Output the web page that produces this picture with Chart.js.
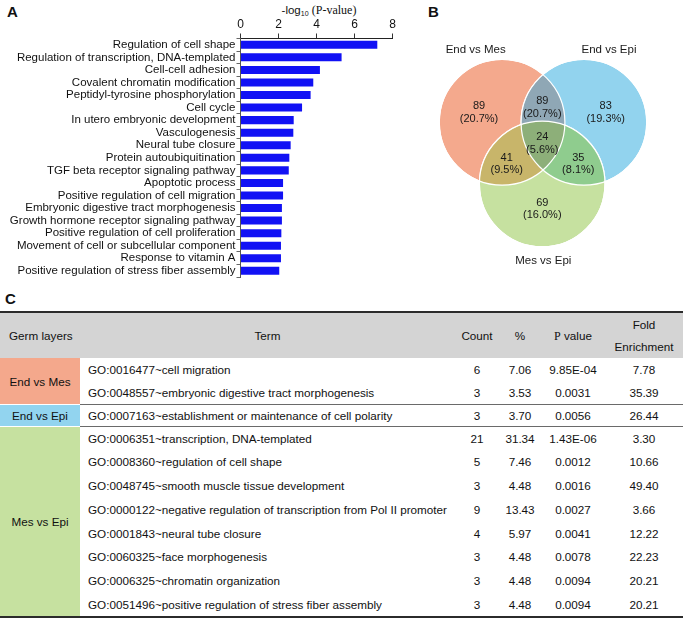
<!DOCTYPE html>
<html>
<head>
<meta charset="utf-8">
<script src="https://cdn.jsdelivr.net/npm/chart.js@4.4.1/dist/chart.umd.min.js"></script>
<style>
  body{margin:0;width:683px;height:624px;position:relative;overflow:hidden;background:#fff;
       font-family:"Liberation Sans",Arial,sans-serif;color:#111}
  .panel{position:absolute;font-weight:bold;font-size:15px;line-height:15px}
  #barChart{position:absolute;left:0;top:0}
  #vennChart{position:absolute;left:420px;top:0}
  #xtitle{position:absolute;left:219px;width:200px;top:3px;text-align:center;font-size:11.5px;line-height:14px}
  #xtitle sub{font-size:7px;vertical-align:-2px}
  .serif{font-family:"Liberation Serif","Times New Roman",serif;font-size:12px}
  #goTable{position:absolute;left:0;top:311px;width:683px;border-collapse:separate;border-spacing:0;
           table-layout:fixed;font-size:11.7px;border-top:2px solid #2b2b2b;border-bottom:2px solid #2b2b2b}
  #goTable td,#goTable th{padding:0;white-space:nowrap;font-weight:normal;text-align:center}
  #goTable th{background:#d4d4d4;height:45px;line-height:22px}
  #goTable td.term{text-align:left;padding-left:8px}
  #goTable tr.first td{border-top:1px solid #6a6a6a}
  #goTable tr.first td.germ{border-top:1px solid #fff}
</style>
</head>
<body>

<div class="panel" style="left:7px;top:4px">A</div>
<div id="xtitle">-log<sub>10</sub> <span class="serif">(P-value)</span></div>
<canvas id="barChart" width="420" height="285"></canvas>

<div class="panel" style="left:428px;top:4px">B</div>
<canvas id="vennChart" width="263" height="285"></canvas>

<div class="panel" style="left:5px;top:291px">C</div>
<table id="goTable"></table>

<script>
// ---- panel A: GO terms and -log10(P) ----
var terms = [
  'Regulation of cell shape',
  'Regulation of transcription, DNA-templated',
  'Cell-cell adhesion',
  'Covalent chromatin modification',
  'Peptidyl-tyrosine phosphorylation',
  'Cell cycle',
  'In utero embryonic development',
  'Vasculogenesis',
  'Neural tube closure',
  'Protein autoubiquitination',
  'TGF beta receptor signaling pathway',
  'Apoptotic process',
  'Positive regulation of cell migration',
  'Embryonic digestive tract morphogenesis',
  'Growth hormone receptor signaling pathway',
  'Positive regulation of cell proliferation',
  'Movement of cell or subcellular component',
  'Response to vitamin A',
  'Positive regulation of stress fiber assembly'
];
var negLogP = [7.2, 5.32, 4.18, 3.83, 3.69, 3.24, 2.80, 2.78, 2.64, 2.57, 2.54,
               2.24, 2.24, 2.18, 2.18, 2.15, 2.13, 2.13, 2.04];
var xTicks = [0, 2, 4, 6, 8];

// ---- panel B: venn sets and region counts ----
var vennSets = ['End vs Mes', 'End vs Epi', 'Mes vs Epi'];
// regions: Mes only, Epi only, MesEpi only, EndMes&EndEpi, EndMes&MesEpi, EndEpi&MesEpi, all three
var regionCounts = [89, 83, 69, 89, 41, 35, 24];

// ---- panel C: enrichment table ----
var germLayers = ['End vs Mes', 'End vs Epi', 'Mes vs Epi'];
var germRows = [2, 1, 8];
var goTerms = [
  'GO:0016477~cell migration',
  'GO:0048557~embryonic digestive tract morphogenesis',
  'GO:0007163~establishment or maintenance of cell polarity',
  'GO:0006351~transcription, DNA-templated',
  'GO:0008360~regulation of cell shape',
  'GO:0048745~smooth muscle tissue development',
  'GO:0000122~negative regulation of transcription from Pol II promoter',
  'GO:0001843~neural tube closure',
  'GO:0060325~face morphogenesis',
  'GO:0006325~chromatin organization',
  'GO:0051496~positive regulation of stress fiber assembly'
];
var counts = [6, 3, 3, 21, 5, 3, 9, 4, 3, 3, 3];
var percents = ['7.06', '3.53', '3.70', '31.34', '7.46', '4.48', '13.43', '5.97', '4.48', '4.48', '4.48'];
var pValues = ['9.85E-04', '0.0031', '0.0056', '1.43E-06', '0.0012', '0.0016', '0.0027', '0.0041', '0.0078', '0.0094', '0.0094'];
var foldEnrichment = ['7.78', '35.39', '26.44', '3.30', '10.66', '49.40', '3.66', '12.22', '22.23', '20.21', '20.21'];

var FONT = '"Liberation Sans", Arial, sans-serif';

// bar chart
new Chart(document.getElementById('barChart'), {
  type: 'bar',
  data: {
    labels: terms,
    datasets: [{
      data: negLogP,
      backgroundColor: '#1111f4',
      barPercentage: 0.64,
      categoryPercentage: 1
    }]
  },
  options: {
    indexAxis: 'y',
    responsive: false,
    animation: false,
    layout: { padding: { left: 0, right: 27.5, top: 0, bottom: 6 } },
    plugins: { legend: { display: false }, tooltip: { enabled: false } },
    scales: {
      x: {
        position: 'top',
        min: 0, max: 8,
        afterBuildTicks: function(s){ s.ticks = xTicks.map(function(v){ return {value: v}; }); },
        afterFit: function(s){ s.height = 38.5; },
        ticks: { color: '#111', font: { family: FONT, size: 12 }, padding: 1.5, maxRotation: 0 },
        grid: { drawOnChartArea: false, drawTicks: true, tickLength: 5, color: '#333' },
        border: { display: true, color: '#222', width: 1 }
      },
      y: {
        afterFit: function(s){ s.width = 240.5; },
        ticks: { color: '#111', font: { family: FONT, size: 11.5 }, padding: 1, autoSkip: false },
        grid: { drawOnChartArea: false, drawTicks: true, tickLength: 4, color: '#666' },
        border: { display: true, color: '#555', width: 1 }
      }
    }
  }
});

// venn diagram as a bubble chart (data units == canvas px)
var vennLayout = {
  centers: [{x: 82.1, y: 122.3}, {x: 163.9, y: 122.3}, {x: 122.2, y: 183.9}],
  radius: 62.8,
  fills: ['#f4a98d', '#92d3ee', '#c6e1a0'],
  pairFills: { '0-1': '#8fa7b5', '0-2': '#c8b56a', '1-2': '#8fcc8e' },
  tripleFill: '#8daf79',
  setLabelPos: [{x: 55.7, y: 50}, {x: 189, y: 50}, {x: 123.3, y: 260.7}],
  regionPos: [{x: 59, y: 106}, {x: 185.7, y: 106}, {x: 122.3, y: 202.5},
              {x: 122.3, y: 101}, {x: 86.7, y: 157.5}, {x: 158.3, y: 157.5}, {x: 122.3, y: 137}]
};
var total = regionCounts.reduce(function(a, b){ return a + b; }, 0);

var vennPlugin = {
  id: 'vennOverlay',
  afterDatasetsDraw: function(chart) {
    var c = chart.ctx, sx = chart.scales.x, sy = chart.scales.y;
    var els = chart.getDatasetMeta(0).data;
    function circ(i){ c.beginPath(); c.arc(els[i].x, els[i].y, els[i].options.radius, 0, Math.PI * 2); }
    [[0, 1], [0, 2], [1, 2]].forEach(function(p){
      c.save(); circ(p[0]); c.clip(); circ(p[1]);
      c.fillStyle = vennLayout.pairFills[p[0] + '-' + p[1]]; c.fill(); c.restore();
    });
    c.save(); circ(0); c.clip(); circ(1); c.clip(); circ(2);
    c.fillStyle = vennLayout.tripleFill; c.fill(); c.restore();
    c.save(); c.strokeStyle = '#fff'; c.lineWidth = 1.2;
    for (var i = 0; i < 3; i++){ circ(i); c.stroke(); }
    c.restore();

    c.save();
    c.textAlign = 'center'; c.textBaseline = 'middle'; c.fillStyle = '#1a1a1a';
    c.font = '11.5px ' + FONT;
    vennSets.forEach(function(name, i){
      var p = vennLayout.setLabelPos[i];
      c.fillText(name, sx.getPixelForValue(p.x), sy.getPixelForValue(p.y));
    });
    c.font = '11px ' + FONT;
    regionCounts.forEach(function(n, i){
      var p = vennLayout.regionPos[i];
      var px = sx.getPixelForValue(p.x), py = sy.getPixelForValue(p.y);
      c.fillText(String(n), px, py);
      c.fillText('(' + (n / total * 100).toFixed(1) + '%)', px, py + 12.5);
    });
    c.restore();
  }
};

new Chart(document.getElementById('vennChart'), {
  type: 'bubble',
  data: {
    datasets: [{
      data: vennLayout.centers.map(function(p){ return {x: p.x, y: p.y, r: vennLayout.radius}; }),
      backgroundColor: vennLayout.fills,
      borderColor: '#fff',
      borderWidth: 1.2,
      clip: false
    }]
  },
  options: {
    responsive: false,
    animation: false,
    layout: { padding: 0, autoPadding: false },
    plugins: { legend: { display: false }, tooltip: { enabled: false } },
    scales: {
      x: { display: false, min: 0, max: 263 },
      y: { display: false, min: 0, max: 285, reverse: true }
    }
  },
  plugins: [vennPlugin]
});

// table
var colWidths = [80, 375, 44, 42, 64, 78];
var germColors = ['#f4a88c', '#92d4ef', '#c6e1a0'];
var rowHeights = [23, 22, 23.8];
var html = '<colgroup>' + colWidths.map(function(w){ return '<col style="width:' + w + 'px">'; }).join('') + '</colgroup>';
html += '<tr><th style="text-align:left;padding-left:9px">Germ layers</th><th>Term</th><th>Count</th><th>%</th>' +
        '<th><span class="serif">P</span> value</th><th>Fold<br>Enrichment</th></tr>';
var r = 0;
germLayers.forEach(function(g, gi){
  for (var k = 0; k < germRows[gi]; k++, r++) {
    html += '<tr class="' + (k === 0 && gi > 0 ? 'first' : '') + '" style="height:' + rowHeights[gi] + 'px">';
    if (k === 0) html += '<td class="germ" rowspan="' + germRows[gi] + '" style="background:' + germColors[gi] + '">' + g + '</td>';
    html += '<td class="term">' + goTerms[r] + '</td><td>' + counts[r] + '</td><td>' + percents[r] +
            '</td><td>' + pValues[r] + '</td><td>' + foldEnrichment[r] + '</td></tr>';
  }
});
document.getElementById('goTable').innerHTML = html;
</script>
</body>
</html>
